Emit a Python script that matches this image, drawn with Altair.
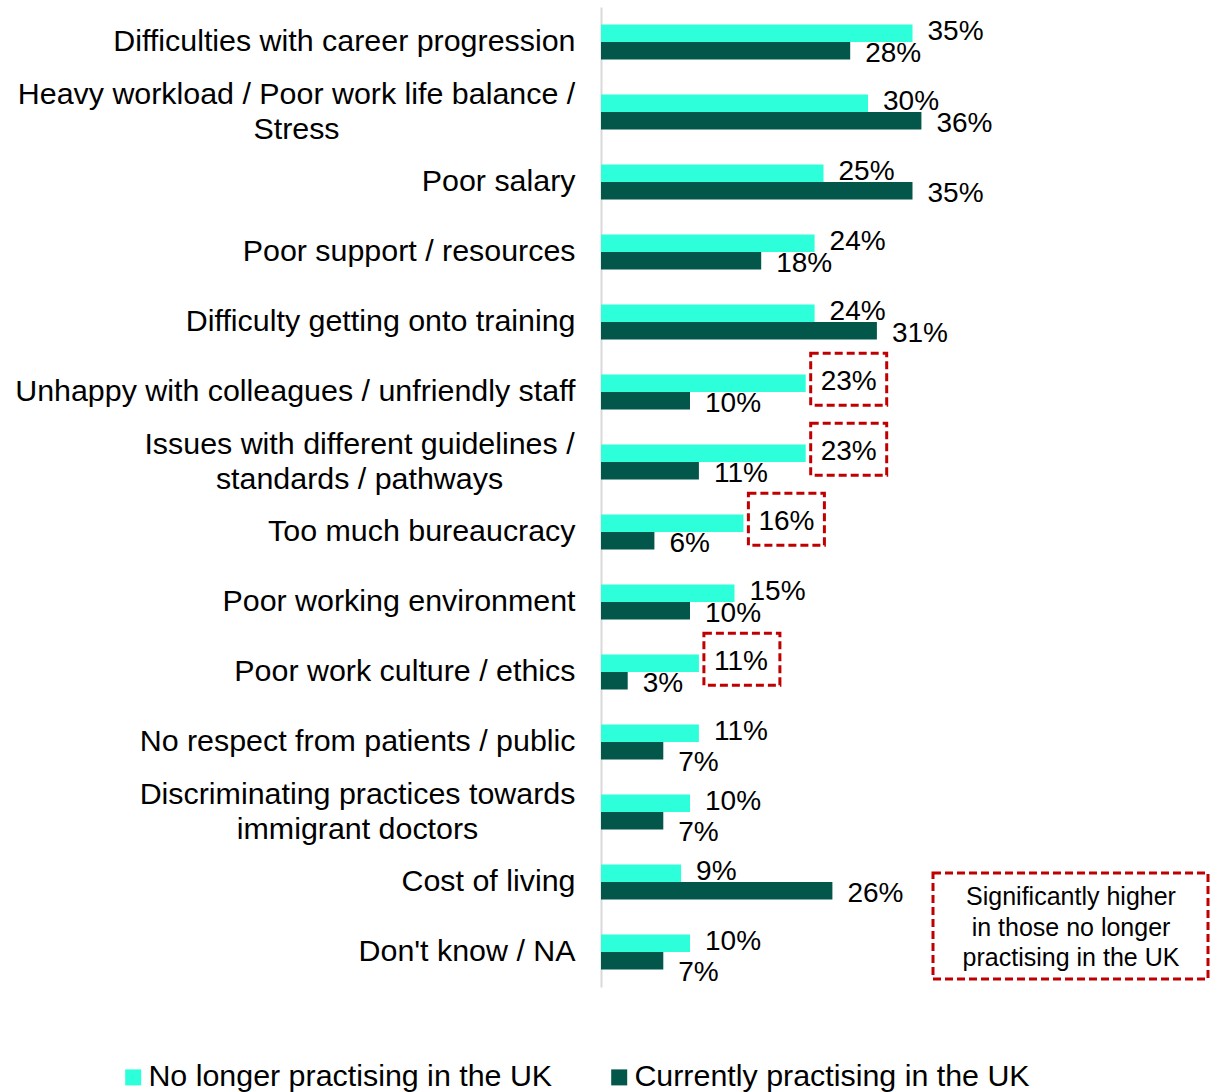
import altair as alt
import pandas as pd

categories = [
    "Difficulties with career progression",
    "Heavy workload / Poor work life balance /\nStress",
    "Poor salary",
    "Poor support / resources",
    "Difficulty getting onto training",
    "Unhappy with colleagues / unfriendly staff",
    "Issues with different guidelines /\nstandards / pathways",
    "Too much bureaucracy",
    "Poor working environment",
    "Poor work culture / ethics",
    "No respect from patients / public",
    "Discriminating practices towards\nimmigrant doctors",
    "Cost of living",
    "Don't know / NA",
]
no_longer = [35, 30, 25, 24, 24, 23, 23, 16, 15, 11, 11, 10, 9, 10]
currently = [28, 36, 35, 18, 31, 10, 11, 6, 10, 3, 7, 7, 26, 7]
significant = [False, False, False, False, False, True, True, True, False, True, False, False, False, False]
series_names = ["No longer practising in the UK", "Currently practising in the UK"]
colors = ["#2CFFDA", "#02564A"]
note_lines = ["Significantly higher", "in those no longer", "practising in the UK"]

rows = []
for i, c in enumerate(categories):
    rows.append({"category": c, "series": series_names[0], "value": no_longer[i],
                 "label": f"{no_longer[i]}%", "sig": significant[i]})
    rows.append({"category": c, "series": series_names[1], "value": currently[i],
                 "label": f"{currently[i]}%", "sig": False})
df = pd.DataFrame(rows)

FONT = "Liberation Sans"
RED = "#C00000"
MULTI = "indexof(datum.value, '\\n') >= 0"

y_enc = alt.Y(
    "category:N",
    sort=categories,
    scale=alt.Scale(domain=categories, paddingInner=0.5, paddingOuter=0.25),
    axis=alt.Axis(
        title=None,
        domain=True,
        domainColor="#d9d9d9",
        domainWidth=2,
        ticks=False,
        tickSize=0,
        grid=False,
        labelFont=FONT,
        labelFontSize=30.4,
        labelColor="#000000",
        labelLimit=1000,
        labelLineHeight=35,
        labelExpr="split(datum.label, '\\n')",
        labelAlign={"condition": [{"test": MULTI, "value": "center"}], "value": "right"},
        labelOffset={"condition": [{"test": MULTI, "value": -17}], "value": 0},
        labelPadding={"condition": [
            {"test": "indexof(datum.value, 'Heavy') >= 0", "value": 305},
            {"test": "indexof(datum.value, 'Issues') >= 0", "value": 242},
            {"test": "indexof(datum.value, 'Discriminating') >= 0", "value": 244},
        ], "value": 26},
    ),
)
x_enc = alt.X("value:Q", scale=alt.Scale(domain=[0, 40]), axis=None)
yoff_enc = alt.YOffset("series:N", sort=series_names, scale=alt.Scale(domain=series_names))

base = alt.Chart(df)

bars = base.mark_bar().encode(
    y=y_enc,
    x=x_enc,
    yOffset=yoff_enc,
    color=alt.Color(
        "series:N",
        scale=alt.Scale(domain=series_names, range=colors),
        legend=alt.Legend(
            title=None,
            orient="none",
            legendX=-483,
            legendY=1055,
            direction="horizontal",
            symbolType="square",
            symbolSize=256,
            symbolStrokeWidth=0,
            labelFont=FONT,
            labelFontSize=30.4,
            labelColor="#000000",
            labelOffset=0,
            labelLimit=1000,
            columnPadding=51,
        ),
    ),
)

# label placement: when both values are close, the lower label is pushed down
lab = base.transform_joinaggregate(
    vmax="max(value)", vmin="min(value)", groupby=["category"]
).transform_calculate(gap="datum.vmax - datum.vmin")

txt_common = dict(align="left", baseline="middle", font=FONT, fontSize=28, color="#000000", dx=15)
enc = dict(y=y_enc, x=x_enc, yOffset=yoff_enc, text="label:N")
labels_light = lab.transform_filter(alt.datum.series == series_names[0]).mark_text(dy=-1, **txt_common).encode(**enc)
labels_dark_far = lab.transform_filter(
    (alt.datum.series == series_names[1]) & (alt.datum.gap > 4)
).mark_text(dy=3, **txt_common).encode(**enc)
labels_dark_near = lab.transform_filter(
    (alt.datum.series == series_names[1]) & (alt.datum.gap <= 4)
).mark_text(dy=12, **txt_common).encode(**enc)

box_shape = "M-1,-0.684L1,-0.684L1,0.684L-1,0.684Z"
boxes = base.transform_filter(alt.datum.sig == True).mark_point(
    shape=box_shape, size=5776, filled=False, stroke=RED, strokeWidth=3,
    strokeDash=[8, 4], xOffset=43, yOffset=-4, opacity=1,
).encode(
    y=alt.Y("category:N", sort=categories, bandPosition=0.25),
    x=x_enc,
)

note_df = pd.DataFrame({"note": ["\n".join(note_lines)]})
note_box = alt.Chart(note_df).mark_rect(
    fill="white", stroke=RED, strokeWidth=3, strokeDash=[8, 4]
).encode(x=alt.value(332), x2=alt.value(607), y=alt.value(866), y2=alt.value(972))
note_text = alt.Chart(note_df).mark_text(
    font=FONT, fontSize=25, color="#000000", align="center", baseline="middle",
    lineBreak="\n", lineHeight=30.5,
).encode(x=alt.value(470), y=alt.value(890), text="note:N")

chart = alt.layer(
    bars, labels_light, labels_dark_far, labels_dark_near, boxes, note_box, note_text
).properties(
    width=356,
    height=980,
    background="white",
    padding={"left": 601, "top": 7, "right": 253, "bottom": 105},
    autosize=alt.AutoSizeParams(type="none"),
).configure_view(strokeWidth=0)

chart.save("out.html", embed_options={"renderer": "svg", "actions": False})
